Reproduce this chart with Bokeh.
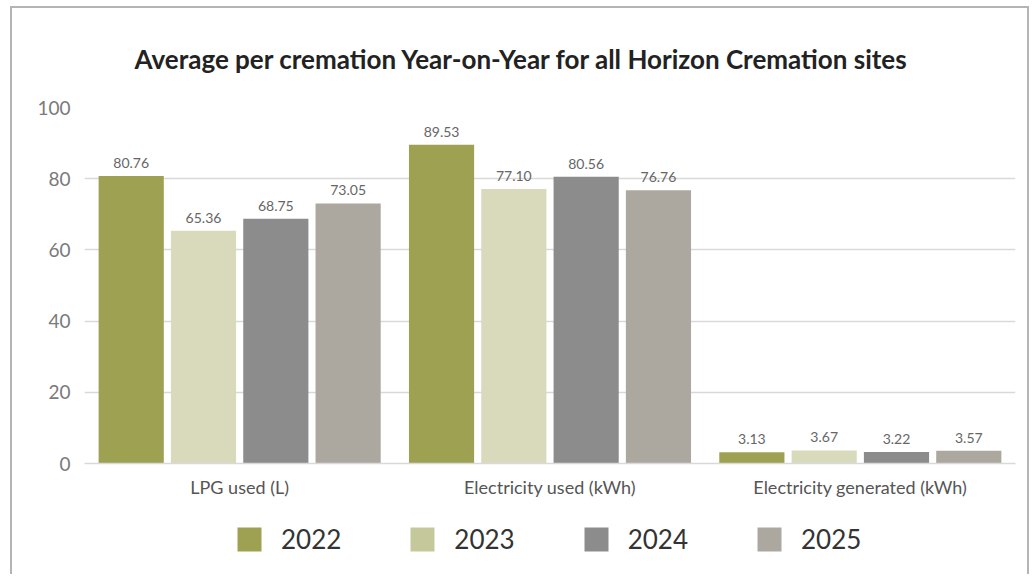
from bokeh.plotting import figure
from bokeh.layouts import column
from bokeh.models import ColumnDataSource, FactorRange, Legend, LegendItem, Range1d, Title, LabelSet
from bokeh.core.properties import value
from bokeh.transform import dodge
from bokeh.embed import file_html
from bokeh.resources import INLINE

categories = ["LPG used (L)", "Electricity used (kWh)", "Electricity generated (kWh)"]
years = ["2022", "2023", "2024", "2025"]
v2022 = [80.76, 89.53, 3.13]
v2023 = [65.36, 77.10, 3.67]
v2024 = [68.75, 80.56, 3.22]
v2025 = [73.05, 76.76, 3.57]
y_ticks = [0, 20, 40, 60, 80, 100]

bar_colors = ["#9ea052", "#d9dabb", "#8c8c8c", "#aca8a0"]
legend_colors = ["#9ea052", "#c5c89a", "#8c8c8c", "#aca8a0"]
FONT = "Lato"

series = [v2022, v2023, v2024, v2025]
data = {"cat": categories}
for y, v in zip(years, series):
    data["y" + y] = v
    data["lbl" + y] = ["%.2f" % x for x in v]
src = ColumnDataSource(data)

p = figure(x_range=FactorRange(*categories, range_padding=0), y_range=Range1d(0, 100),
           width=1015, height=500, output_backend="svg", toolbar_location=None,
           min_border_left=72, min_border_right=12, min_border_top=96, min_border_bottom=45)

title = Title(text="Average per cremation Year-on-Year for all Horizon Cremation sites",
              align="left", text_font=FONT, text_font_size="26px", text_font_style="bold",
              text_color="#222222", offset=50, standoff=65)
p.add_layout(title, "above")

offsets = [-0.3495, -0.1165, 0.1165, 0.3495]
for y, off, col in zip(years, offsets, bar_colors):
    p.vbar(x=dodge("cat", off, range=p.x_range), top="y" + y, width=0.21, source=src,
           fill_color=col, line_color=None)
    labels = LabelSet(x=dodge("cat", off, range=p.x_range), y="y" + y, text="lbl" + y,
                      source=src, text_align="center", text_baseline="bottom", y_offset=8,
                      text_font=value(FONT), text_font_size="14px", text_color="#666666")
    p.add_layout(labels)

p.yaxis.ticker = y_ticks
p.yaxis.axis_line_color = None
p.yaxis.major_tick_line_color = None
p.yaxis.minor_tick_line_color = None
p.yaxis.major_label_text_font = FONT
p.yaxis.major_label_text_font_size = "19px"
p.yaxis.major_label_text_color = "#7a7a7a"
p.yaxis.major_label_standoff = 8

p.xaxis.axis_line_color = "#d9d9d9"
p.xaxis.axis_line_width = 1.5
p.xaxis.major_tick_line_color = None
p.xaxis.minor_tick_line_color = None
p.xaxis.major_label_text_font = FONT
p.xaxis.major_label_text_font_size = "18px"
p.xaxis.major_label_text_color = "#555555"
p.xaxis.major_label_standoff = 6

p.xgrid.grid_line_color = None
p.ygrid.grid_line_color = "#d9d9d9"
p.ygrid.grid_line_width = 1.5
p.outline_line_color = None

# legend strip below the chart (zero-size proxy glyphs carry the swatch colours)
lf = figure(width=1015, height=66, x_range=Range1d(0, 1), y_range=Range1d(0, 1),
            output_backend="svg", toolbar_location=None,
            min_border_left=0, min_border_right=0, min_border_top=0, min_border_bottom=0,
            x_axis_type=None, y_axis_type=None)
lf.grid.visible = False
lf.outline_line_color = None
items = []
for y, col in zip(years, legend_colors):
    r = lf.quad(left=[0], right=[0], top=[0], bottom=[0], fill_color=col, line_color=None)
    items.append(LegendItem(label=y, renderers=[r]))
legend = Legend(items=items, orientation="horizontal", location=(150, 19),
                glyph_width=30, glyph_height=30, label_standoff=17, spacing=66,
                label_text_font=FONT, label_text_font_size="26px", label_text_color="#333333",
                border_line_color=None, background_fill_alpha=0, padding=0, margin=0)
lf.add_layout(legend, "center")

layout = column(p, lf, spacing=0, margin=(6, 0, 0, 10),
                styles={"border-top": "2px solid #b4b4b4", "border-left": "2px solid #b4b4b4",
                        "border-right": "2px solid #b4b4b4"})

open("out.html", "w").write(file_html(layout, INLINE))
